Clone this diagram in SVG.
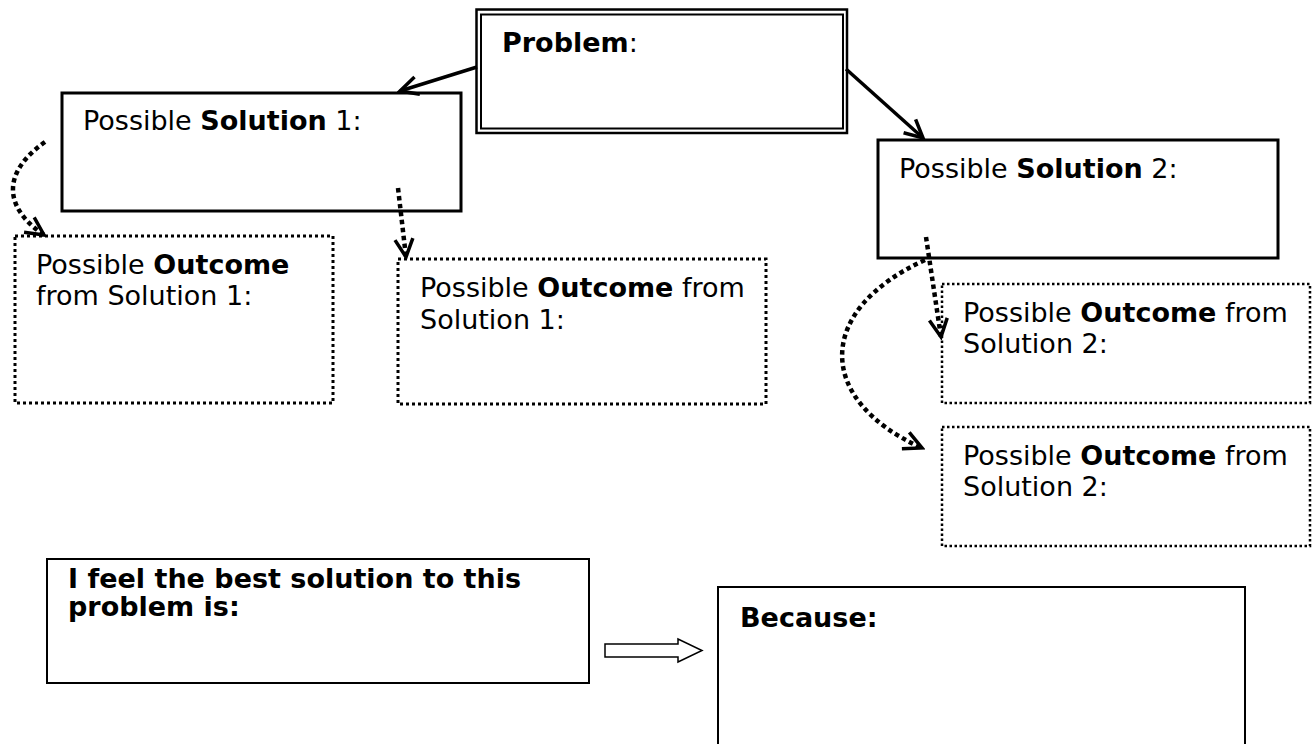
<svg xmlns="http://www.w3.org/2000/svg" width="1314" height="744" viewBox="0 0 1314 744">
<style>
text{font-family:"DejaVu Sans",Verdana,sans-serif;font-size:27px;fill:#000}
.b{font-weight:bold}
.solid{fill:#fff;stroke:#000;stroke-width:3}
.thin{fill:#fff;stroke:#000;stroke-width:2}
.dot1{fill:#fff;stroke:#000;stroke-width:3;stroke-dasharray:3 3}
.dot2{fill:#fff;stroke:#000;stroke-width:2.5;stroke-dasharray:2.5 2.5}
.arr{fill:none;stroke:#000;stroke-width:3.5}
.darr{fill:none;stroke:#000;stroke-width:4.5;stroke-dasharray:4.5 3.5}
</style>
<defs>
<marker id="ah" markerUnits="userSpaceOnUse" viewBox="0 0 24 24" markerWidth="24" markerHeight="24" refX="21" refY="12" orient="auto">
<path d="M3,3 L21,12 L3,21" fill="none" stroke="#000" stroke-width="3.5"/>
</marker>
</defs>
<g id="problem">
<rect x="476.5" y="9.5" width="370.5" height="123.5" fill="#fff" stroke="#000" stroke-width="2.5"/>
<rect x="481" y="14.5" width="362" height="114" fill="none" stroke="#000" stroke-width="2"/>
<text x="502" y="52"><tspan class="b">Problem</tspan>:</text>
</g>
<g id="solution1">
<rect class="solid" x="62" y="93" width="399" height="118"/>
<text x="83" y="130">Possible <tspan class="b">Solution</tspan> 1:</text>
</g>
<g id="solution2">
<rect class="solid" x="878" y="140" width="400" height="118"/>
<text x="899" y="178">Possible <tspan class="b">Solution</tspan> 2:</text>
</g>
<g id="outcome1a">
<rect class="dot1" x="15" y="236" width="318" height="167"/>
<text x="36" y="274">Possible <tspan class="b">Outcome</tspan></text>
<text x="36" y="305">from Solution 1:</text>
</g>
<g id="outcome1b">
<rect class="dot1" x="398" y="259" width="368" height="145"/>
<text x="420" y="297">Possible <tspan class="b">Outcome</tspan> from</text>
<text x="420" y="329">Solution 1:</text>
</g>
<g id="outcome2a">
<rect class="dot2" x="942" y="284" width="368" height="119"/>
<text x="963" y="322">Possible <tspan class="b">Outcome</tspan> from</text>
<text x="963" y="353">Solution 2:</text>
</g>
<g id="outcome2b">
<rect class="dot2" x="942" y="427" width="368" height="119"/>
<text x="963" y="465">Possible <tspan class="b">Outcome</tspan> from</text>
<text x="963" y="496">Solution 2:</text>
</g>
<g id="best">
<rect class="thin" x="47" y="559" width="542" height="124"/>
<text class="b" x="68" y="588">I feel the best solution to this</text>
<text class="b" x="68" y="616">problem is:</text>
</g>
<g id="because">
<rect class="thin" x="718" y="587" width="527" height="170"/>
<text class="b" x="740" y="627">Because:</text>
</g>
<g id="connectors">
<path class="arr" d="M477,67 L400,91" marker-end="url(#ah)"/>
<path class="arr" d="M846,69 L923,138" marker-end="url(#ah)"/>
<path class="darr" d="M45,142 C5,170 0,205 44,235" marker-end="url(#ah)"/>
<path class="darr" d="M398,188 L406,257" marker-end="url(#ah)"/>
<path class="darr" d="M926,237 L941,337" marker-end="url(#ah)"/>
<path class="darr" d="M925,260 C815,310 815,400 922,448" marker-end="url(#ah)"/>
<polygon points="605,644 678,644 678,639 702,650.5 678,662 678,657 605,657" fill="#fff" stroke="#000" stroke-width="1.5"/>
</g>
</svg>
